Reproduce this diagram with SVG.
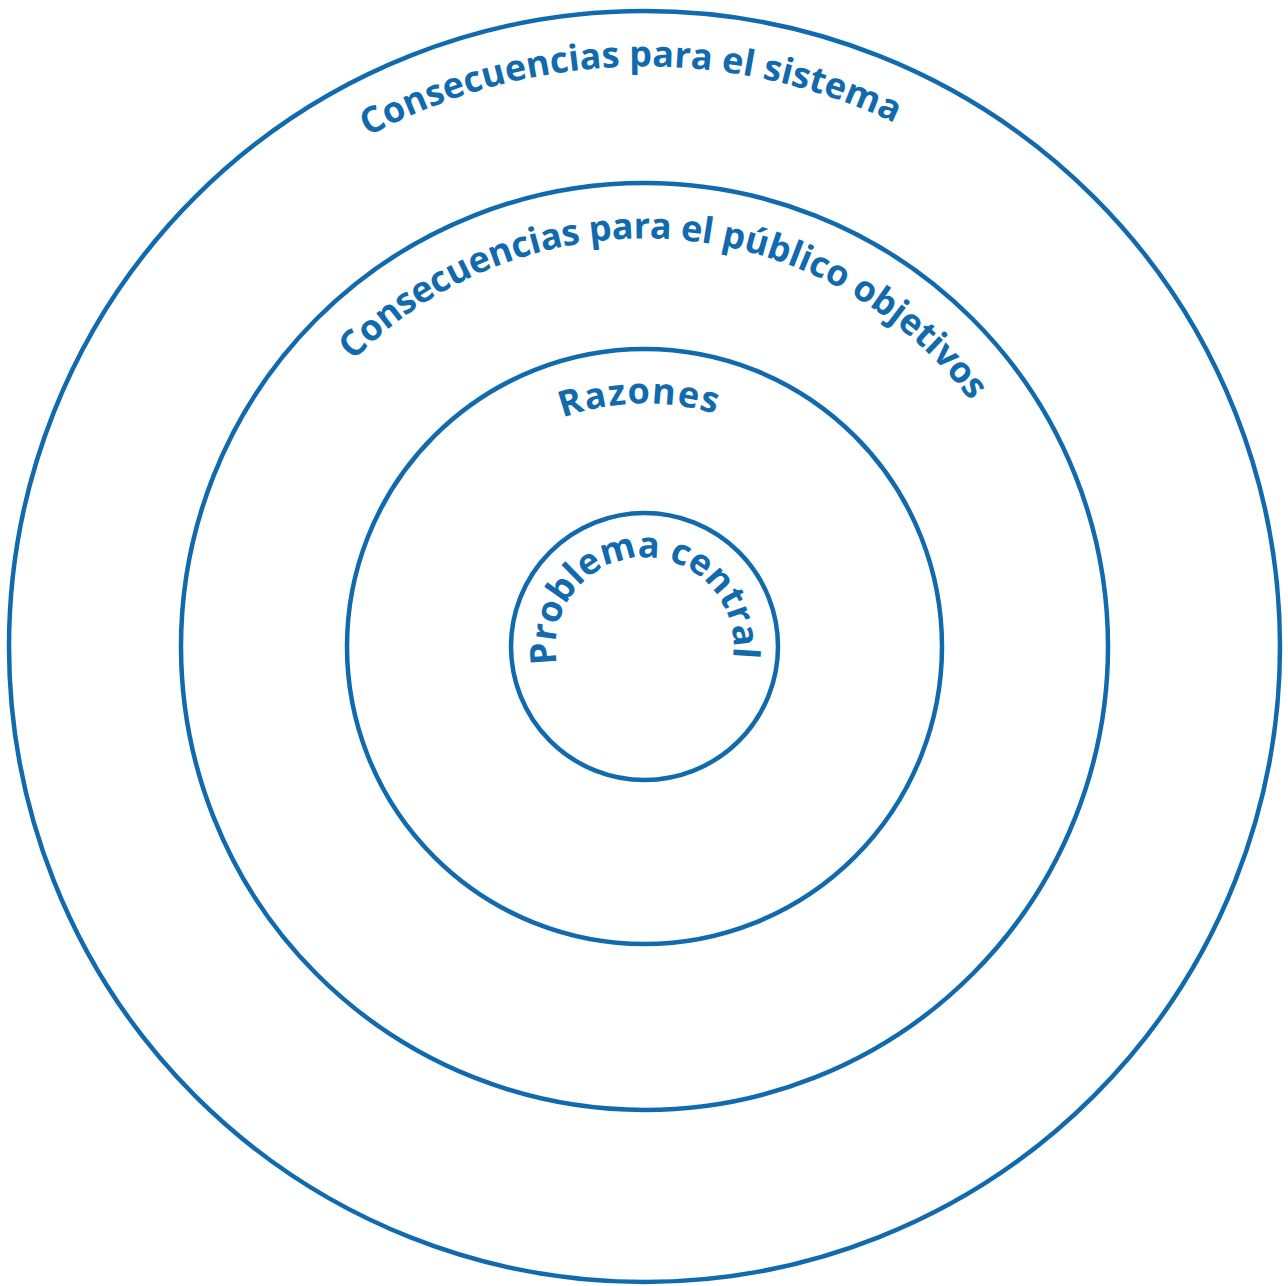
<svg xmlns="http://www.w3.org/2000/svg" xmlns:xlink="http://www.w3.org/1999/xlink" width="1288" height="1286" viewBox="0 0 1288 1286">
<style>
.ring{fill:none;stroke:#106aad;stroke-width:4.5}
.lbl{fill:#106aad;font-family:"Open Sans","Noto Sans","Liberation Sans",sans-serif;font-weight:700;font-size:36px}
</style>
<defs>
<path id="p1" d="M644.5,1226.5 A580,580 0 1 1 644.5,66.5 A580,580 0 1 1 644.5,1226.5"/>
<path id="p2" d="M644.5,1054.5 A408,408 0 1 1 644.5,238.5 A408,408 0 1 1 644.5,1054.5"/>
<path id="p3" d="M644.5,889.5 A243,243 0 1 1 644.5,403.5 A243,243 0 1 1 644.5,889.5"/>
<path id="p4" d="M644.5,735.5 A89,89 0 1 1 644.5,557.5 A89,89 0 1 1 644.5,735.5"/>
</defs>
<rect width="1288" height="1286" fill="#ffffff"/>
<g id="sistema">
<circle class="ring" cx="644.5" cy="646.5" r="635.5"/>
<text class="lbl"><textPath xlink:href="#p1" href="#p1" startOffset="1533.6" textLength="547" lengthAdjust="spacing">Consecuencias para el sistema</textPath></text>
</g>
<g id="publico">
<circle class="ring" cx="644.5" cy="646.5" r="463.5"/>
<text class="lbl"><textPath xlink:href="#p2" href="#p2" startOffset="957" textLength="702" lengthAdjust="spacing">Consecuencias para el público objetivos</textPath></text>
</g>
<g id="razones">
<circle class="ring" cx="644.5" cy="646.5" r="297.5"/>
<text class="lbl"><textPath xlink:href="#p3" href="#p3" startOffset="679.8" textLength="155.6" lengthAdjust="spacing">Razones</textPath></text>
</g>
<g id="problema">
<circle class="ring" cx="644.5" cy="646.5" r="133.5"/>
<text class="lbl"><textPath xlink:href="#p4" href="#p4" startOffset="121.9" textLength="308.3" lengthAdjust="spacing">Problema central</textPath></text>
</g>
</svg>
